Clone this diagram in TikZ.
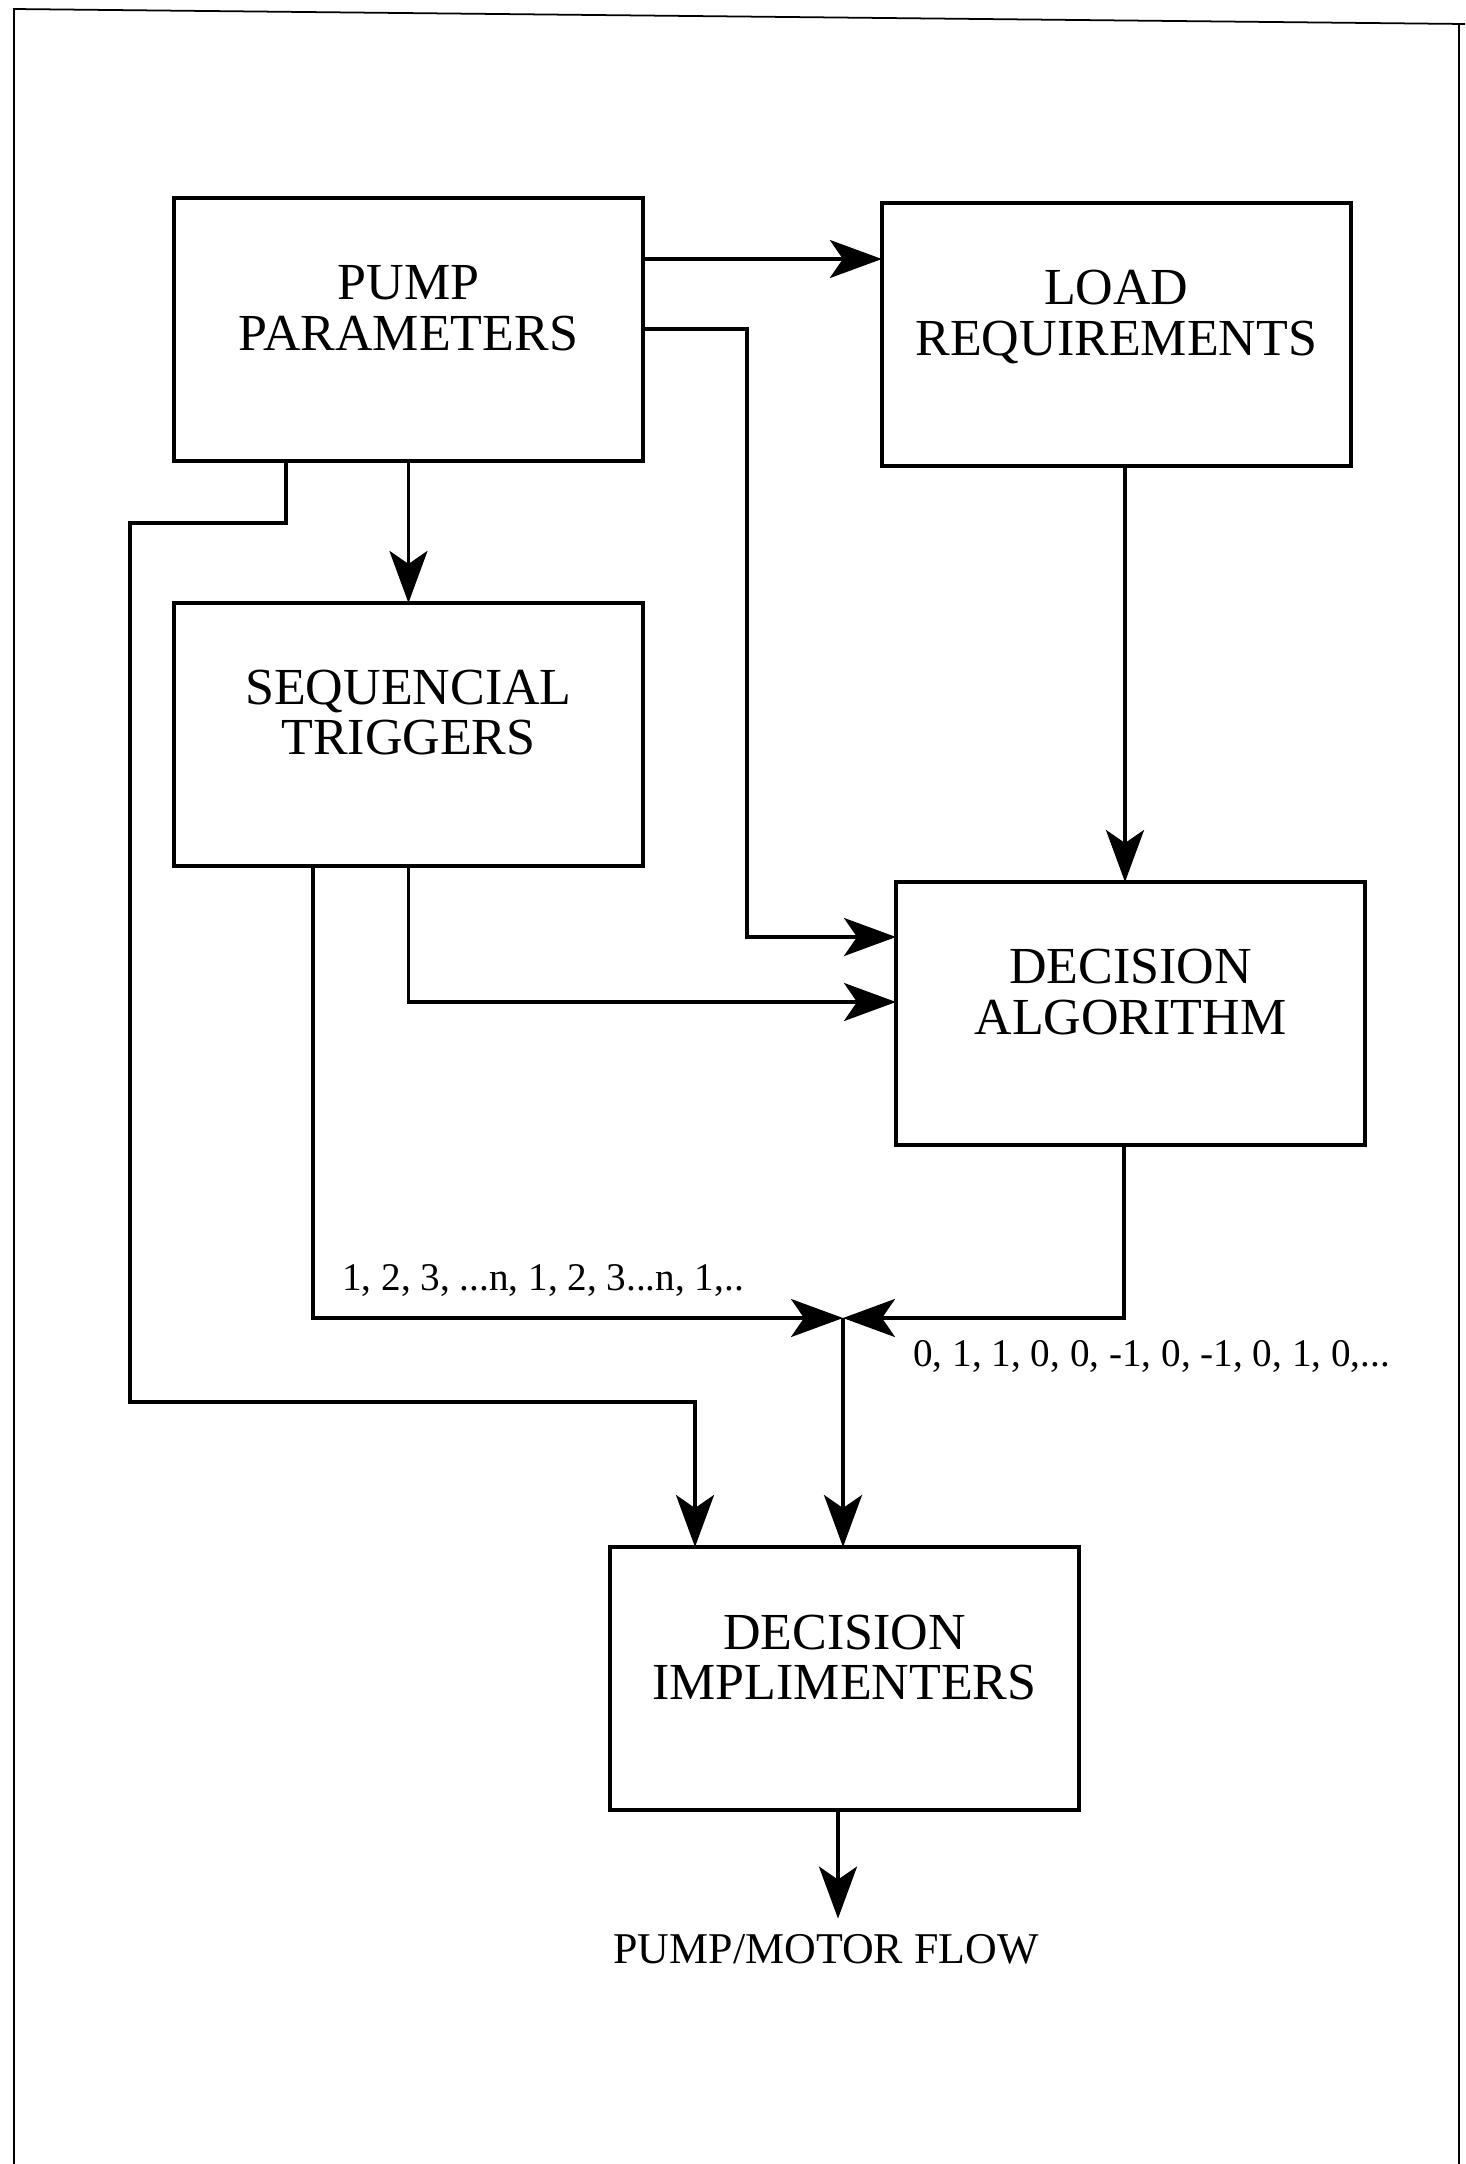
\documentclass[tikz,border=0pt]{standalone}
\usepackage{fontspec}
\setmainfont{Liberation Serif}
\usepackage{tikz}
\usetikzlibrary{positioning,arrows.meta}

\begin{document}
\begin{tikzpicture}[x=0.02cm,y=-0.02cm,>={Stealth[length=1.04cm,width=0.76cm,inset=0.26cm]},
  node distance=2.84cm and 4.78cm,
  box/.style={draw,line width=2.5pt,inner sep=0pt,outer sep=0pt,align=center,text width=9.38cm,text height=2.04cm,text depth=3.22cm,font=\fontsize{29.6}{28.5}\selectfont},
  seqtext/.style={inner sep=0pt,anchor=base west,font=\fontsize{22.3}{24}\selectfont},
  link/.style={->,line width=2.1pt}]
\useasboundingbox (0,0) rectangle (1465,2164);
\draw[line width=1pt] (1465,24) -- (14,9) -- (14,2164);
\draw[line width=1pt] (1459,24) -- (1459,2164);

\node (pp) [box,anchor=north west] at (174,198) {PUMP\\PARAMETERS};
\node (lr) [box,right=of pp,yshift=-0.1cm] {LOAD\\REQUIREMENTS};
\node (st) [box,below=of pp] {SEQUENCIAL\\TRIGGERS};
\node (da) [box,anchor=north west] at (896,882) {DECISION\\ALGORITHM};
\node (di) [box,anchor=north west] at (610,1547) {DECISION\\IMPLIMENTERS};
\node (flow) [anchor=base,inner sep=0.3cm,font=\fontsize{25}{27}\selectfont] at (826,1963) {PUMP/MOTOR FLOW};
\node (trig) [seqtext] at (342,1290) {1, 2, 3, ...n, 1, 2, 3...n, 1,..};
\node (cmd) [seqtext] at (913,1366) {0, 1, 1, 0, 0, -1, 0, -1, 0, 1, 0,...};
\coordinate (jn) at (843,1318);

\draw[link] (pp.east |- 0,259) -- (lr.west |- 0,259);
\draw[link] (pp.east |- 0,329) -| (747,937) -- (da.west |- 0,937);
\draw[link] (pp) -- (st);
\draw[link] (pp.south -| 286,0) |- (130,523) |- (695,1402) -- (di.north -| 695,0);
\draw[link] (lr.south -| 1125,0) -- (da.north -| 1125,0);
\draw[link] (st.south) |- (da.west |- 0,1002);
\draw[link] (st.south -| 313,0) |- (jn);
\draw[link] (da.south -| 1124,0) |- (jn);
\draw[link] (jn) -- (di.north -| jn);
\draw[link] (di.south -| 838,0) -- (flow.north -| 838,0);
\end{tikzpicture}
\end{document}
